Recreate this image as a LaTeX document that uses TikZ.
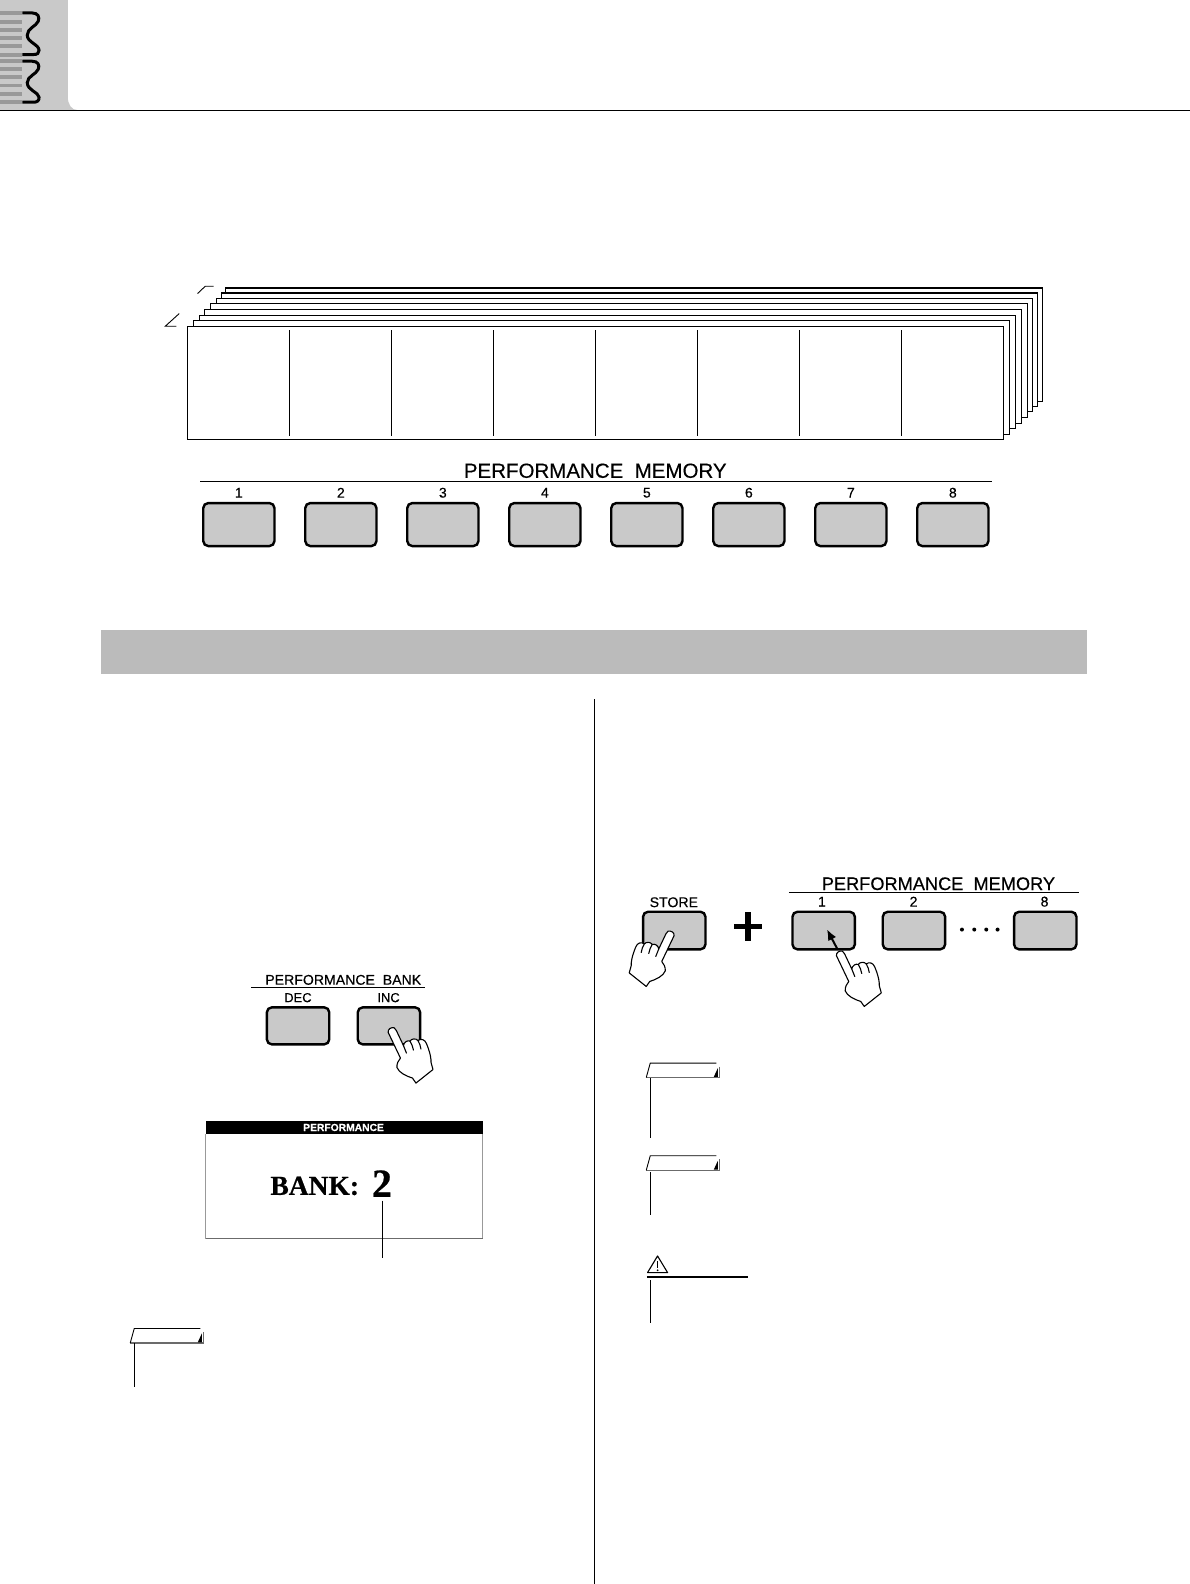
\documentclass[tikz,border=0pt]{standalone}
\usepackage{fontspec}
\setmainfont{Liberation Sans}[FakeBold=0.35]
\newfontfamily\lcdfont{Liberation Serif}[BoldFeatures={FakeBold=0.6}]
\usepackage{tikz}
\usetikzlibrary{arrows.meta,positioning}
\definecolor{keygray}{HTML}{C9C9C9}
\definecolor{bandgray}{HTML}{BBBBBB}
\definecolor{stripegray}{HTML}{999999}

\begin{document}
\begin{tikzpicture}[
    x=1pt, y=-1pt,
    key/.style={draw, rounded corners=5pt, fill=keygray, line width=2.4pt, minimum width=71.2pt, minimum height=43pt, inner sep=0pt},
    smallkey/.style={key, minimum width=62.4pt, minimum height=37.6pt},
    keynum/.style={font=\fontsize{14}{14}\selectfont, inner sep=0pt},
    title/.style={font=\fontsize{20.5}{20}\selectfont, inner sep=0pt},
    smalltitle/.style={font=\fontsize{18.2}{18}\selectfont, inner sep=0pt},
    banktitle/.style={font=\fontsize{14.1}{14}\selectfont, inner sep=0pt},
    rulee/.style={line width=1.3pt},
    thin rule/.style={line width=0.9pt},
    sheet/.style={draw, fill=white},
    hand/.pic={
        \draw[fill=white, line width=1.1pt, line join=round]
            (-3.8,3.8) .. controls (-4.4,0.5) and (-0.5,-1.6) .. (2.2,-0.8)
            .. controls (3.4,-0.3) and (3.8,0.6) .. (4.4,2)
            -- (11.5,17)
            .. controls (12,13.5) and (15.5,11.5) .. (18,12.5)
            .. controls (19.5,10) and (24,9.5) .. (26,12)
            .. controls (29,9.5) and (33,11) .. (34.5,15)
            .. controls (37,21) and (38.5,26) .. (39,31)
            .. controls (38.5,34) and (40.5,38) .. (41,41)
            -- (24,54.5) -- (20.5,49.5)
            .. controls (14,47.5) and (7,44) .. (5,39)
            .. controls (4.6,35) and (6.5,32) .. (8.5,29.5)
            -- cycle;
        \draw[line width=1.1pt, line cap=round] (11.5,17) -- (14.5,24.5);
        \draw[line width=1.1pt, line cap=round] (18,12.5) .. controls (19.5,15) and (21,18) .. (21.5,21.5);
        \draw[line width=1.1pt, line cap=round] (26,12) .. controls (27.5,15) and (28.7,17) .. (29,20.5);
    },
    notetab/.pic={
        \fill[white] (0,0) -- (4,-14.5) -- (70,-14.5) -- (73.3,-11) -- (73.3,0) -- cycle;
        \draw[stripegray!70!black, line width=1.1pt] (73.3,-11) -- (73.3,0) -- (0,0);
        \draw[line width=0.9pt] (0,0) -- (4,-14.5) -- (70,-14.5);
        \fill (67.5,-0.6) -- (71.6,-9.5) -- (71.6,-0.6) -- cycle;
    }
]
\useasboundingbox (-0.25,-0.25) rectangle (1189.75,1583.75);
% page header
\fill[keygray] (-1,-1) -- (67.5,-1) -- (67.5,96) .. controls (67.5,104) and (71,110) .. (78,110) -- (-1,110) -- cycle;
\foreach \sy in {13,21.7,29.7,37.7,46,54.7,60.7,68.7,77,85.3,93.7,102}
    \fill[stripegray] (-1,\sy-1.9) rectangle (22,\sy+1.9);
\draw[line width=3pt] (22,12.7) -- (32,12.7) .. controls (38,12.7) and (39.5,17) .. (38,21)
    .. controls (36,26) and (27,28) .. (27,35) .. controls (27,42) and (38.5,44) .. (38.8,50)
    .. controls (39,53) and (37,54.3) .. (33,54.3) -- (22,54.3);
\draw[line width=3pt] (22,61) -- (32,61) .. controls (38,61) and (39.5,65) .. (38,69)
    .. controls (36,74) and (27,76) .. (27,82.5) .. controls (27,90) and (38.5,92) .. (38.8,97)
    .. controls (39,100.5) and (37,102) .. (33,102) -- (22,102);
\draw[line width=1pt] (-1,110) -- (1191,110);

% stacked sheets, back to front
\foreach \sl/\st/\sr/\sb/\sw/\rw in {
    225.7/287.7/1042.7/401.3/1.8/1,
    221.3/292.7/1037.3/406.3/1.4/1,
    216.3/298.3/1032.3/411.7/1/1,
    210.3/303.3/1027.3/417.3/1/1.8,
    204.3/309.3/1021.7/423/1/1,
    199.3/315.3/1015.7/428.3/1/1,
    193.3/320.7/1009.7/434.3/1/1,
    187.3/326.3/1003.3/439.3/1/1}{
    \draw[sheet, line width=1pt] (\sl,\st) rectangle (\sr,\sb);
    \draw[line width=\sw pt] (\sl,\st) -- (\sr,\st);
    \draw[line width=\rw pt] (\sr,\st) -- (\sr,\sb);
}
\foreach \dx in {289.2,391.2,493.2,595.2,697.2,799.2,901.2}
    \draw[line width=0.9pt] (\dx,330) -- (\dx,436);
\draw[thin rule] (197.3,293.3) -- (205,286) -- (213.3,286);
\draw[thin rule] (179,313.3) -- (165,326) -- (176,326);

% performance memory keys
\node[title] (memtitle) at (595,470.5) {PERFORMANCE\hspace{0.556em}MEMORY};
\draw[rulee] (200,481.4) -- (991.7,481.4);
\node[key] (m1) at (238.6,524.3) {};
\foreach \i [remember=\i as \j (initially 1)] in {2,...,8}
    \node[key, right=28.4pt of m\j] (m\i) {};
\foreach \i in {1,...,8}
    \node[keynum] at (m\i.center |- 0,492.5) {\i};

% band and column rule
\fill[bandgray] (100.8,630) rectangle (1086.8,673.8);
\draw[line width=0.9pt] (594.2,699) -- (594.2,1585);

% bank keys
\node[banktitle] (banktitle) at (343,979.6) {PERFORMANCE\hspace{0.556em}BANK};
\draw[rulee] (250.8,987.4) -- (424.6,987.4);
\node[smallkey, minimum height=37pt] (dec) at (297.8,1025.6) {};
\node[smallkey, minimum height=37pt] (inc) at (388.7,1025.6) {};
\node[banktitle, font=\fontsize{13}{13}\selectfont] at (297.7,997.4) {DEC};
\node[banktitle, font=\fontsize{13}{13}\selectfont] at (388.3,997.4) {INC};
\pic at (391.7,1028.3) {hand};

% display
\draw[stripegray, line width=1pt] (205.3,1134) -- (205.3,1238.3);
\draw[stripegray, line width=1pt] (482.7,1134) -- (482.7,1238.3);
\draw[stripegray!70!black, line width=1pt] (205.3,1238.3) -- (482.7,1238.3);
\fill (205.3,1120.7) rectangle (482.7,1133.7);
\node[text=white, font=\fontsize{10.3}{10}\selectfont\bfseries, inner sep=0pt] (lcdtitle) at (343.3,1127.2) {PERFORMANCE};
\node[anchor=base west, inner sep=0pt, font=\lcdfont\bfseries\fontsize{27.5}{27}\selectfont] (banktext) at (270,1194.6) {BANK:};
\node[anchor=base west, inner sep=0pt, font=\lcdfont\bfseries\fontsize{40}{40}\selectfont] (banknum) at (371.5,1196.6) {2};
\coordinate (callout) at (381.7,1257.7);
\draw[line width=0.9pt] (banknum.south -| callout) ++(0,3.5) -- (callout);

% store and memory keys
\node[banktitle] (storelabel) at (673.6,902) {STORE};
\node[smallkey] (store) at (674,930.3) {};
\pic[xscale=-1] at (670,931.7) {hand};
\node[inner sep=0pt] (plus) at (747.7,926) {};
\fill (plus) ++(-13.8,-2.7) rectangle ++(27.6,5.4);
\fill (plus) ++(-2.7,-14.5) rectangle ++(5.4,29);
\node[smalltitle] (memtitleb) at (938.2,883.5) {PERFORMANCE\hspace{0.556em}MEMORY};
\draw[thin rule] (788.7,892.2) -- (1078.7,892.2);
\node[smallkey] (k1) at (823.4,930.3) {};
\node[smallkey] (k2) at (913.7,930.3) {};
\node[smallkey] (k8) at (1045,930.3) {};
\node[banktitle] at (821.7,901.4) {1};
\node[banktitle] at (913.3,901.4) {2};
\node[banktitle] at (1044.3,901.4) {8};
\foreach \dx in {961.7,974,986,997.3}
    \fill (\dx,929.3) circle (2);
\pic at (840,951.7) {hand};
\coordinate (tipa) at (826.7,929);
\coordinate (taila) at (836.7,948);
\draw[-{Latex[length=11pt,width=9pt]}, line width=2pt] (taila) -- (tipa);

% note tabs
\pic at (646,1077.3) {notetab};
\draw[thin rule] (650.3,1077.8) -- (650.3,1137.7);
\pic at (646,1170) {notetab};
\draw[thin rule] (650.3,1172) -- (650.3,1214.7);
\pic at (130,1342.7) {notetab};
\draw[thin rule] (134.3,1343) -- (134.3,1386.7);

% warning sign
\draw[line width=1.1pt, line join=round] (657.3,1255.7) -- (667.3,1272.3) -- (647.3,1272.3) -- cycle;
\draw[line width=1.8pt] (657.3,1261) -- (657.3,1267.5);
\fill (657.3,1270) circle (1);
\draw[line width=2pt] (646.7,1276.7) -- (748,1276.7);
\draw[thin rule] (650.3,1280) -- (650.3,1322.7);
\end{tikzpicture}
\end{document}
